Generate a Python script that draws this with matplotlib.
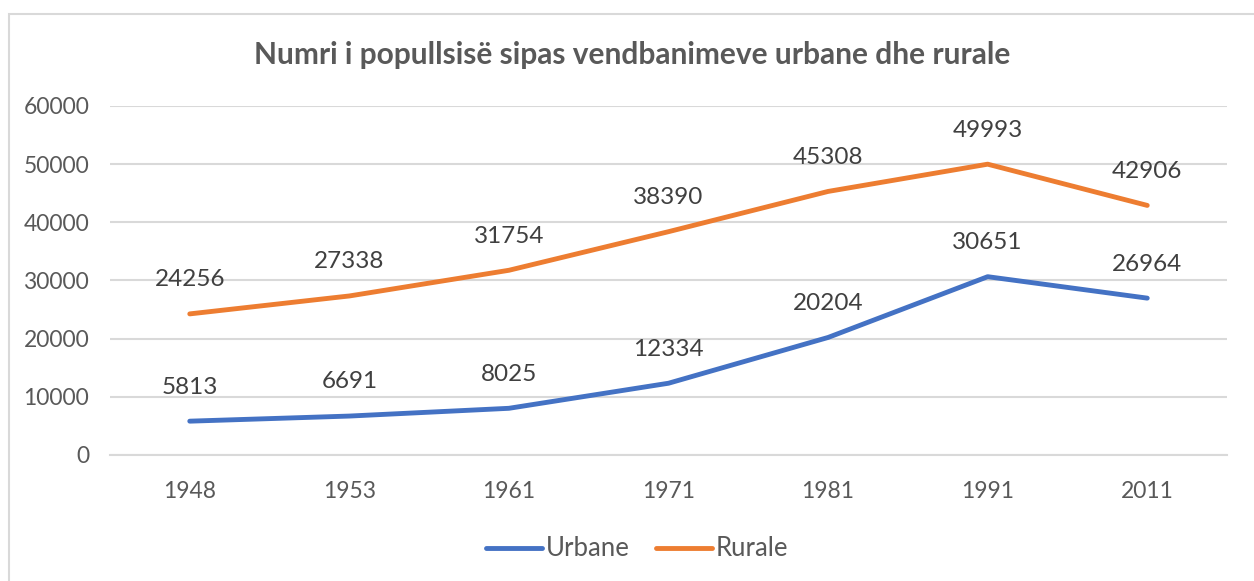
import matplotlib.pyplot as plt
from matplotlib.patches import Rectangle

years = ['1948', '1953', '1961', '1971', '1981', '1991', '2011']
urbane = [5813, 6691, 8025, 12334, 20204, 30651, 26964]
rurale = [24256, 27338, 31754, 38390, 45308, 49993, 42906]

title = 'Numri i popullsisë sipas vendbanimeve urbane dhe rurale'
text_color = '#595959'
grid_color = '#d9d9d9'
blue = '#4472c4'
orange = '#ed7d31'

plt.rcParams['font.family'] = ['Lato', 'DejaVu Sans']

fig = plt.figure(figsize=(12.54, 5.81), dpi=100)
ax = fig.add_axes([0.0877, 0.2169, 0.8908, 0.6007])

# chart border (Excel style frame)
fig.patches.append(Rectangle((9 / 1254, -0.05), 1.1, 1 - 13.5 / 581 + 0.05,
                             transform=fig.transFigure, fill=False,
                             edgecolor=grid_color, linewidth=1.5))

x = list(range(len(years)))
ax.plot(x, urbane, color=blue, linewidth=3.5, solid_capstyle='round',
        solid_joinstyle='round', label='Urbane')
ax.plot(x, rurale, color=orange, linewidth=3.5, solid_capstyle='round',
        solid_joinstyle='round', label='Rurale')

for xi, v in zip(x, urbane):
    ax.annotate(f'{v}', xy=(xi, v), xytext=(0, 17), textcoords='offset points',
                ha='center', va='bottom', fontsize=17.5, color='#404040')
for xi, v in zip(x, rurale):
    ax.annotate(f'{v}', xy=(xi, v), xytext=(0, 17), textcoords='offset points',
                ha='center', va='bottom', fontsize=17.5, color='#404040')

ax.set_xlim(-0.5, len(years) - 0.5)
ax.set_ylim(0, 60000)
ax.set_yticks(range(0, 60001, 10000))
ax.set_xticks(x)
ax.set_xticklabels(years)
ax.grid(axis='y', color=grid_color, linewidth=1.5)
ax.set_axisbelow(True)
for s in ['top', 'right', 'left']:
    ax.spines[s].set_visible(False)
ax.spines['bottom'].set_color(grid_color)
ax.spines['bottom'].set_linewidth(1.5)
ax.tick_params(axis='both', length=0, labelsize=16.5, labelcolor=text_color)
ax.tick_params(axis='y', pad=15)
ax.tick_params(axis='x', pad=19)

fig.text(0.504, 1 - 55 / 581, title, ha='center', va='center',
         fontsize=21.5, fontweight='bold', color=text_color)

fig.legend(loc='center', bbox_to_anchor=(0.508, 1 - 549 / 581), ncol=2,
           frameon=False, fontsize=18.5, labelcolor=text_color,
           handlelength=2.2, handletextpad=0.15, columnspacing=1.0)

fig.savefig('out.png', dpi=100)
